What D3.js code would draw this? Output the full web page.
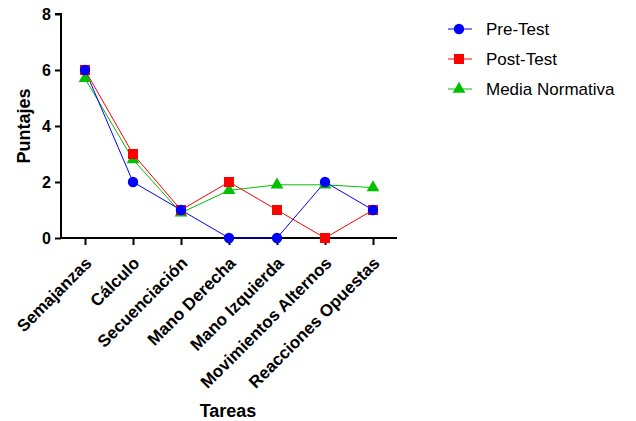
<!DOCTYPE html>
<html><head><meta charset="utf-8">
<script src="https://cdn.jsdelivr.net/npm/d3@7"></script>
<style>body{margin:0;background:#fff}</style>
</head><body>
<svg id="c" width="636" height="421"></svg>
<script>
const categories = ["Semajanzas","Cálculo","Secuenciación","Mano Derecha","Mano Izquierda","Movimientos Alternos","Reacciones Opuestas"];
const preTest = [6,2,1,0,0,2,1];
const postTest = [6,3,1,2,1,0,1];
const mediaNormativa = [5.7,2.8,0.9,1.7,1.9,1.9,1.8];
const yTicks = [0,2,4,6,8];
const seriesNames = ["Pre-Test","Post-Test","Media Normativa"];

const svg = d3.select("#c");
const font = "Liberation Sans, Arial, sans-serif";
const x = d3.scalePoint().domain(categories).range([61,397]).padding(0.5);
const y = d3.scaleLinear().domain([0,8]).range([238,14]);

const series = [
  {name:seriesNames[2], vals:mediaNormativa, color:"#00c000", sym:d3.symbolTriangle, size:70},
  {name:seriesNames[1], vals:postTest, color:"#ff0000", sym:d3.symbolSquare, size:100},
  {name:seriesNames[0], vals:preTest, color:"#0000ff", sym:d3.symbolCircle, size:85}
];

// axes
const yAxis = svg.append("g").attr("transform","translate(61,0)")
  .call(d3.axisLeft(y).tickValues(yTicks).tickSize(6).tickPadding(4));
yAxis.select(".domain").attr("stroke-width",2).attr("d","M-6,14H0V238");
yAxis.selectAll(".tick line").attr("stroke-width",2);
yAxis.selectAll("text").attr("font-family",font).attr("font-weight","bold").attr("font-size",16).attr("fill","#000");

const xAxis = svg.append("g").attr("transform","translate(0,238)")
  .call(d3.axisBottom(x).tickSize(7).tickPadding(6));
xAxis.select(".domain").attr("stroke-width",2).attr("d","M60,0H397");
xAxis.selectAll(".tick line").attr("stroke-width",2);
xAxis.selectAll("text").attr("font-family",font).attr("font-weight","bold").attr("font-size",17).attr("fill","#000")
  .attr("text-anchor","end").attr("x",0).attr("y",0).attr("dy","0.35em")
  .attr("transform","translate(3,22) rotate(-45)");

// titles
svg.append("text").attr("transform","translate(30,126) rotate(-90)").attr("text-anchor","middle")
  .attr("font-family",font).attr("font-weight","bold").attr("font-size",18).text("Puntajes");
svg.append("text").attr("x",228).attr("y",417).attr("text-anchor","middle")
  .attr("font-family",font).attr("font-weight","bold").attr("font-size",18).text("Tareas");

// lines & markers
const line = d3.line().x((d,i)=>x(categories[i])).y(d=>y(d));
series.forEach(s=>{
  svg.append("path").attr("d",line(s.vals)).attr("fill","none").attr("stroke",s.color).attr("stroke-width",1);
});
series.forEach(s=>{
  svg.append("g").selectAll("path").data(s.vals).join("path")
    .attr("transform",(d,i)=>`translate(${x(categories[i])},${y(d)})`)
    .attr("d",d3.symbol().type(s.sym).size(s.size)).attr("fill",s.color);
});

// legend
const leg = [series[2],series[1],series[0]];
leg.forEach((s,i)=>{
  const ly = 29 + i*30;
  svg.append("line").attr("x1",448).attr("x2",472).attr("y1",ly).attr("y2",ly).attr("stroke",s.color).attr("stroke-width",1);
  svg.append("path").attr("transform",`translate(459,${ly})`).attr("d",d3.symbol().type(s.sym).size(s.size)).attr("fill",s.color);
  svg.append("text").attr("x",486).attr("y",ly).attr("dy","0.35em").attr("font-family",font).attr("font-size",17).text(s.name);
});
</script>
</body></html>
